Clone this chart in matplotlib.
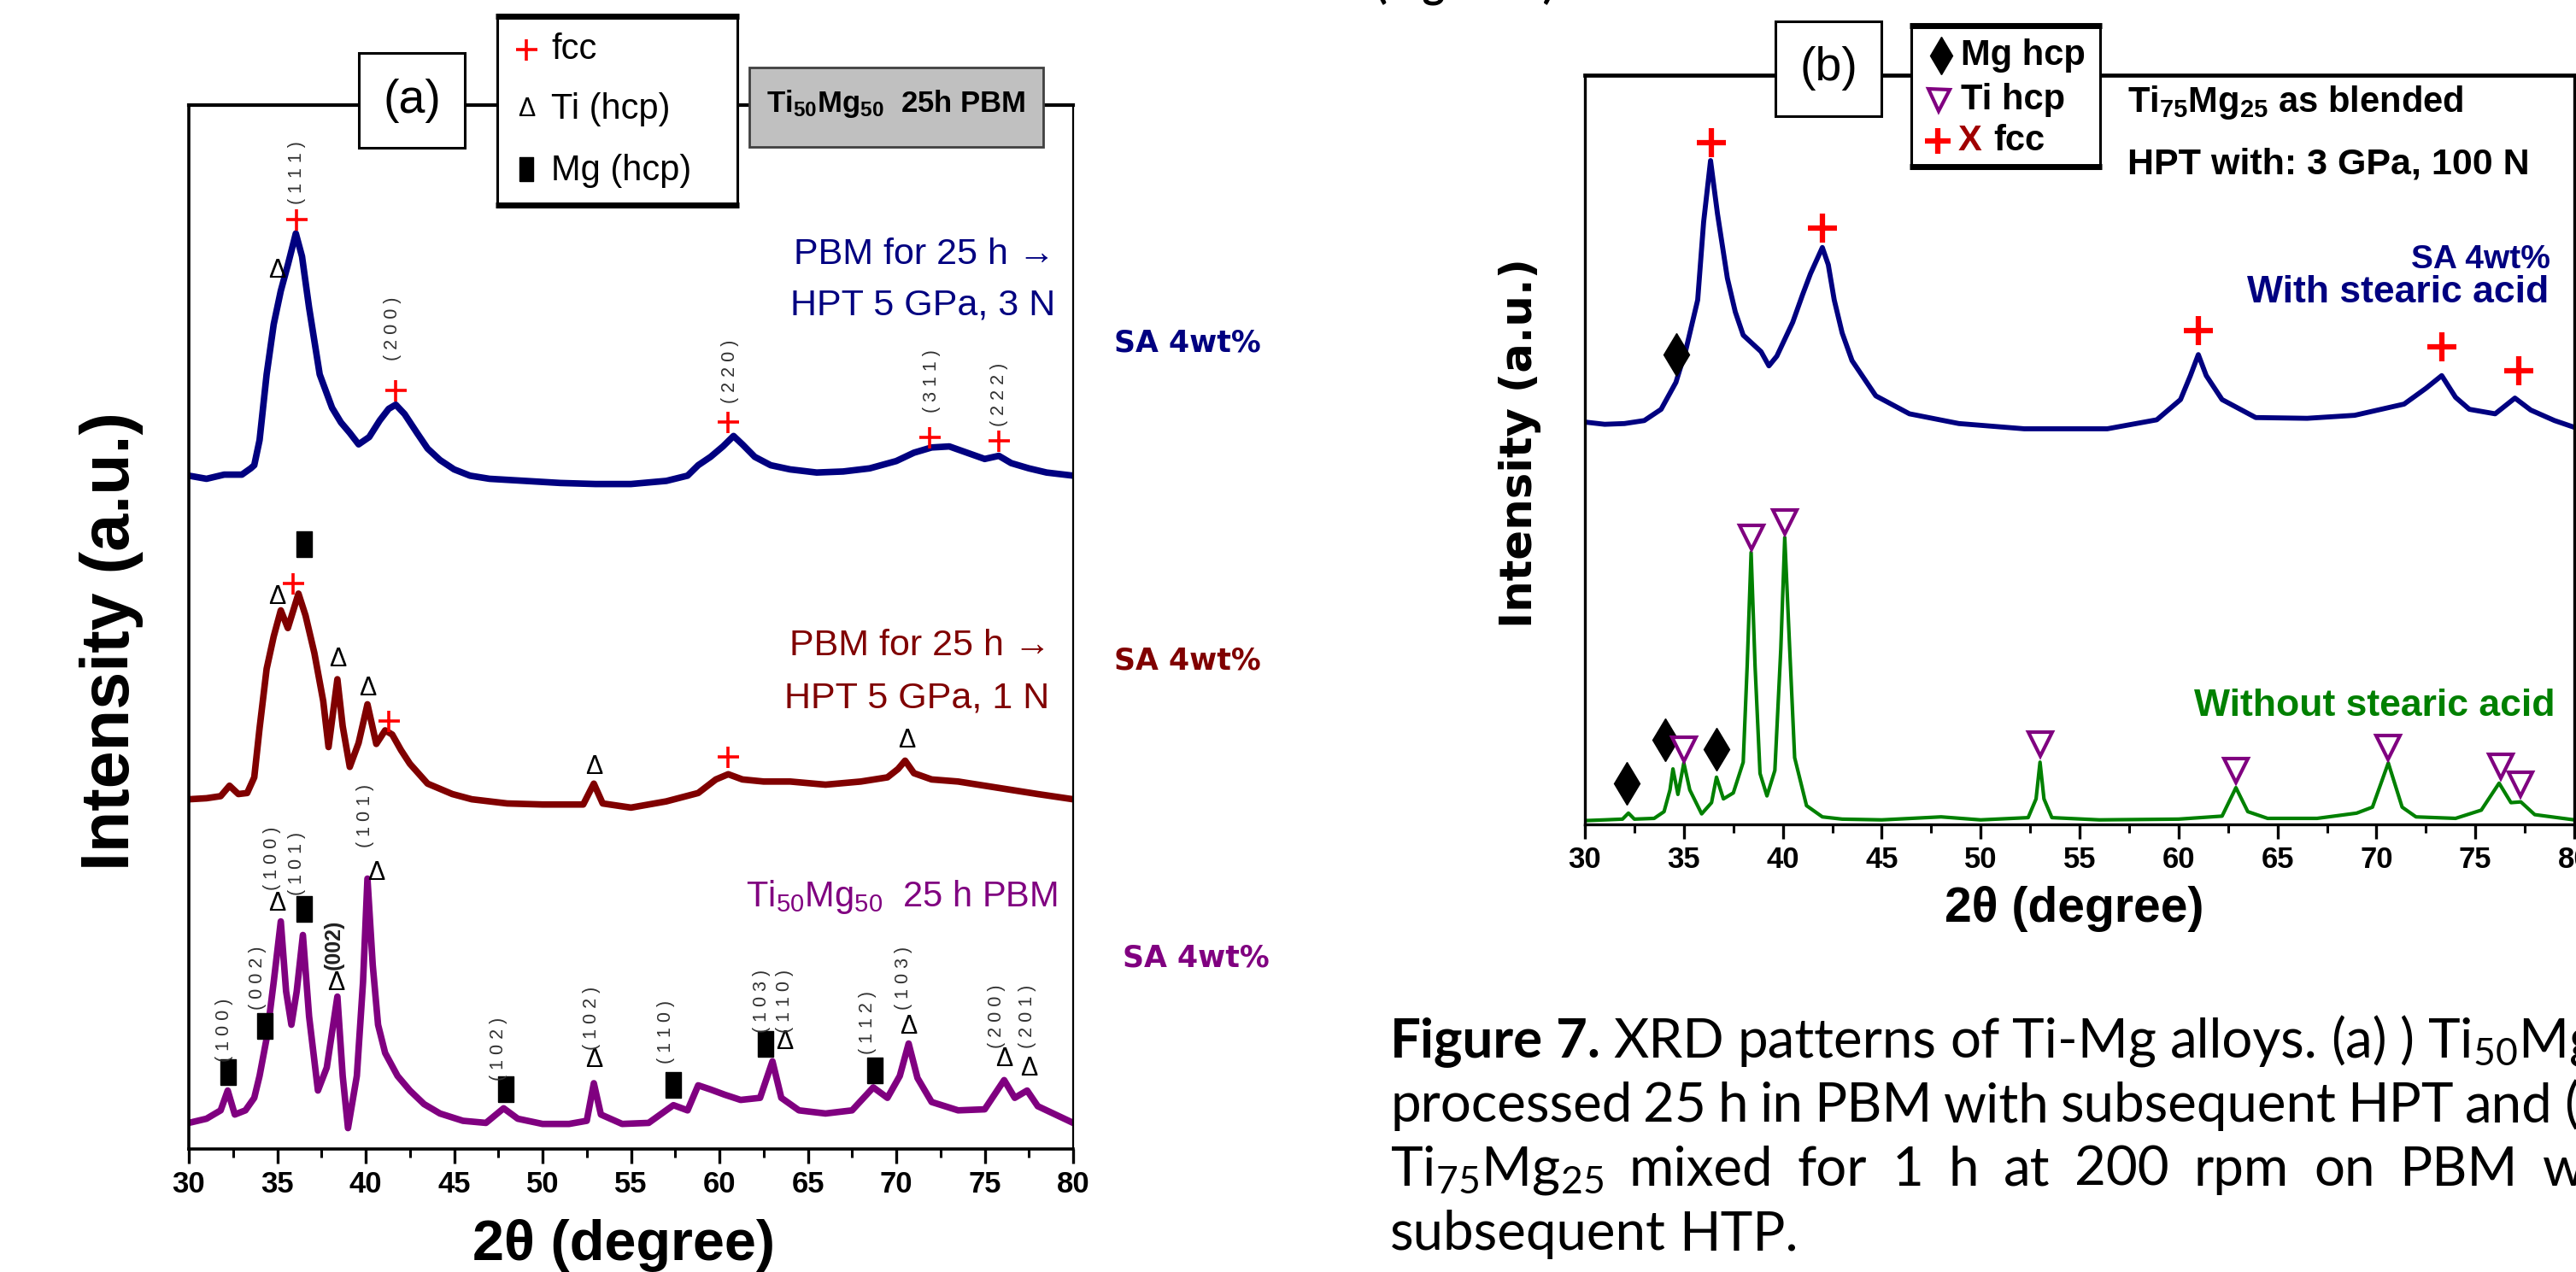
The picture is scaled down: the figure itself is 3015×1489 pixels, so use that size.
import matplotlib
matplotlib.use("Agg")
import matplotlib.pyplot as plt
from matplotlib.patches import Rectangle
from matplotlib.lines import Line2D
from matplotlib.ticker import MultipleLocator

plt.rcParams['mathtext.default'] = 'regular'

W, H = 3015, 1489
ARIAL = ['Liberation Sans', 'DejaVu Sans']
WIDE = ['DejaVu Sans']
CAPT = ['Lato', 'DejaVu Sans']

NAVY, MAROON, PURPLE, GREEN, RED = '#000080', '#800000', '#800080', '#008000', '#ff0000'

# ---------------- panel (a): Ti50Mg50, offset patterns (a.u.) ----------------
a_blue_x = [30, 31, 32, 33, 33.5, 33.7, 34.0, 34.4, 34.8, 35.2, 35.6, 36.05, 36.4, 36.8, 37.4,
            38.1, 38.6, 39.1, 39.6, 40.2, 40.8, 41.3, 41.7, 42.2, 42.9, 43.5, 44.2, 45.0, 45.9,
            47, 49, 51, 53, 55, 57, 58.2, 58.8, 59.5, 60.2, 60.8, 61.3, 62.0, 62.9, 64, 65.5,
            67, 68.5, 70, 71, 72, 73, 74, 75, 75.8, 76.5, 77.5, 78.5, 80]
a_blue_y = [64.5, 64.2, 64.6, 64.6, 65.2, 65.5, 67.9, 74.2, 79.0, 82.2, 84.7, 87.7, 85.5, 80.6, 74.2,
            71.0, 69.6, 68.6, 67.5, 68.2, 69.8, 70.9, 71.3, 70.4, 68.6, 67.1, 66.0, 65.1, 64.5,
            64.2, 64.0, 63.8, 63.7, 63.7, 64.0, 64.5, 65.5, 66.3, 67.3, 68.3, 67.5, 66.3, 65.5, 65.1, 64.8,
            64.9, 65.2, 65.9, 66.7, 67.2, 67.3, 66.7, 66.1, 66.4, 65.7, 65.2, 64.8, 64.5]

a_red_x = [30, 31, 31.8, 32.3, 32.8, 33.3, 33.7, 34.0, 34.4, 34.8, 35.2, 35.6, 36.2, 36.6, 37.1,
           37.6, 37.9, 38.4, 38.7, 39.1, 39.6, 40.1, 40.6, 41.1, 41.5, 42.0, 42.5, 43.5, 44.9,
           46, 48, 50, 52.3, 52.9, 53.4, 55, 57, 58.8, 59.8, 60.5, 61.3, 62.5, 64, 66, 68,
           69.5, 70.1, 70.5, 71.0, 72, 73.5, 75, 76.5, 78, 80]
a_red_y = [33.5, 33.6, 33.8, 34.8, 34.0, 34.1, 35.6, 40.3, 46.0, 49.1, 51.6, 49.9, 53.2, 51.1, 47.5,
           42.9, 38.5, 45.0, 40.5, 36.6, 38.9, 42.6, 38.8, 40.1, 39.7, 38.2, 36.9, 35.0, 34.0,
           33.5, 33.1, 33.0, 33.0, 35.0, 33.1, 32.7, 33.3, 34.1, 35.4, 35.9, 35.4, 35.2, 35.2, 34.9, 35.2,
           35.6, 36.4, 37.2, 36.0, 35.4, 35.2, 34.8, 34.4, 34.0, 33.5]

a_pur_x = [30, 31, 31.8, 32.2, 32.6, 33.2, 33.7, 34.0, 34.4, 34.8, 35.2, 35.5, 35.8, 36.1, 36.45,
           36.8, 37.3, 37.8, 38.4, 38.7, 39.0, 39.5, 39.85, 40.1, 40.4, 40.7, 41.1, 41.8, 42.5,
           43.3, 44.2, 45.5, 46.8, 47.8, 48.6, 50, 51.5, 52.5, 52.9, 53.3, 54.5, 56, 57.4, 58.2,
           58.8, 59.5, 60.3, 61.2, 62.3, 63.0, 63.5, 64.5, 66, 67.5, 68.7, 69.5, 70.2, 70.7,
           71.2, 72, 73.5, 75, 76.1, 76.7, 77.4, 78, 79, 80]
a_pur_y = [2.5, 2.9, 3.7, 5.6, 3.3, 3.7, 4.9, 7.0, 10.6, 16.0, 21.8, 15.1, 11.9, 15.1, 20.5,
           12.7, 5.6, 7.8, 14.6, 7.0, 2.0, 7.0, 16.0, 25.9, 17.6, 11.9, 9.2, 7.0, 5.6,
           4.3, 3.4, 2.7, 2.5, 3.9, 2.9, 2.4, 2.4, 2.7, 6.3, 3.3, 2.4, 2.5, 4.2, 3.7,
           6.1, 5.7, 5.2, 4.7, 4.9, 8.4, 4.9, 3.7, 3.4, 3.7, 5.9, 4.9, 7.0, 10.1,
           6.8, 4.5, 3.7, 3.8, 6.6, 4.9, 5.6, 4.1, 3.3, 2.5]

a_plus_x = [36.1, 41.7, 60.5, 71.9, 75.8, 35.9, 41.3, 60.5]
a_plus_y = [89.0, 72.7, 69.6, 68.2, 67.8, 54.2, 41.0, 37.6]
a_delta_x = [35.0, 35.0, 38.4, 40.1, 52.9, 70.6, 35.0, 38.3, 40.6, 52.9, 63.7, 70.7, 76.1, 77.5]
a_delta_y = [84.1, 52.9, 46.9, 44.1, 36.6, 39.1, 23.5, 15.9, 26.4, 8.5, 10.2, 11.7, 8.6, 7.7]
a_mg_x = [36.5, 32.2, 34.3, 36.5, 47.9, 57.4, 62.6, 68.8]
a_mg_y = [57.9, 7.4, 11.8, 23.0, 5.7, 6.1, 10.1, 7.5]

a_hkl_x = [36.1, 41.5, 60.6, 72.0, 75.8,
           32.0, 33.9, 34.7, 36.1, 38.2, 40.0, 47.5, 52.8, 57.0, 62.4, 63.7, 68.4, 70.4, 75.7, 77.4]
a_hkl_y = [93.5, 78.6, 74.5, 73.6, 72.3,
           11.4, 16.4, 27.8, 27.3, 19.6, 31.9, 9.6, 12.5, 11.2, 14.2, 14.2, 12.1, 16.4, 12.7, 12.7]
a_hkl_lab = ['(111)', '(200)', '(220)', '(311)', '(222)',
             '(100)', '(002)', '(100)', '(101)', '(002)*', '(101)', '(102)', '(102)', '(110)',
             '(103)', '(110)', '(112)', '(103)', '(200)', '(201)']

# ---------------- panel (b): Ti75Mg25 ----------------
b_blue_x = [30, 31, 32, 33, 33.85, 34.6, 35.1, 35.7, 36.0, 36.35, 36.7, 37.2, 37.6, 38.0, 38.9,
            39.3, 39.7, 40.5, 41.0, 41.4, 42.0, 42.3, 42.6, 43.0, 43.5, 44.7, 46.4, 48.9, 52.2,
            56.4, 58.9, 60.1, 60.6, 61.0, 61.4, 62.2, 63.9, 66.5, 68.9, 71.4, 72.5, 73.3, 74.0,
            74.7, 76.0, 77.0, 77.8, 79, 80]
b_blue_y = [53.7, 53.4, 53.5, 53.9, 55.4, 59.0, 63.3, 70.0, 80.4, 88.6, 81.5, 72.9, 68.4, 65.3, 63.1,
            61.2, 62.5, 67.0, 70.7, 73.5, 77.0, 74.7, 70.0, 65.6, 61.9, 57.2, 54.8, 53.5, 52.8,
            52.8, 54.0, 56.7, 59.9, 62.7, 59.9, 56.7, 54.3, 54.2, 54.6, 56.1, 58.2, 59.9, 57.0,
            55.4, 54.8, 56.9, 55.3, 53.9, 53.0]

b_green_x = [30, 31, 31.9, 32.2, 32.5, 33.5, 34.0, 34.3, 34.45, 34.7, 35.0, 35.3, 35.9, 36.4, 36.65,
             37.0, 37.5, 38.0, 38.2, 38.4, 38.6, 38.85, 39.2, 39.6, 39.9, 40.1, 40.35, 40.6, 41.2,
             42.0, 43, 45, 48, 50, 52.4, 52.8, 53.0, 53.2, 53.6, 56, 60, 62.2, 62.9, 63.5, 64.5,
             67, 69, 69.8, 70.6, 71.3, 72, 74, 75.3, 76.2, 76.8, 77.3, 78, 80]
b_green_y = [0.5, 0.6, 0.7, 1.5, 0.7, 0.8, 1.7, 4.6, 7.4, 4.0, 8.2, 4.6, 1.4, 2.9, 6.3,
             3.4, 4.2, 8.3, 21.1, 36.3, 21.1, 6.8, 3.8, 7.2, 23.4, 38.3, 23.4, 8.9, 2.5,
             1.0, 0.7, 0.6, 1.0, 0.6, 0.9, 3.4, 8.3, 3.4, 0.9, 0.6, 0.7, 1.1, 4.9, 1.7, 0.8,
             0.8, 1.5, 2.3, 8.2, 2.3, 1.0, 0.8, 1.9, 5.5, 2.9, 3.0, 1.3, 0.6]

b_plus_x = [36.4, 42.0, 61.0, 73.3, 77.2]
b_plus_y = [91.0, 79.6, 65.9, 63.7, 60.5]
b_dia_x = [34.6, 32.1, 34.05, 36.65]
b_dia_y = [62.7, 5.5, 11.3, 10.0]
b_tri_x = [35.0, 38.4, 40.1, 53.0, 62.9, 70.6, 76.3, 77.3]
b_tri_y = [10.0, 38.3, 40.4, 10.7, 7.2, 10.3, 7.8, 5.4]

xticks = [30, 35, 40, 45, 50, 55, 60, 65, 70, 75, 80]

caption_lines = [
    [('Figure', 'bold'), ('7.', 'bold'), ('XRD', 'normal'), ('patterns', 'normal'), ('of', 'normal'),
     ('Ti-Mg', 'normal'), ('alloys.', 'normal'), ('(a)', 'normal'), (')', 'normal'),
     ('Ti$_{50}$Mg$_{50}$', 'normal')],
    [(w, 'normal') for w in 'processed 25 h in PBM with subsequent HPT and (b)'.split()],
    [(w, 'normal') for w in ['Ti$_{75}$Mg$_{25}$', 'mixed', 'for', '1', 'h', 'at', '200', 'rpm',
                             'on', 'PBM', 'with']],
    [(w, 'normal') for w in 'subsequent HTP.'.split()],
]

MG_RECT = [(-0.28, -0.5), (0.28, -0.5), (0.28, 0.5), (-0.28, 0.5), (-0.28, -0.5)]


def fx(px):
    return px / W


def fy(py):
    return 1 - py / H


fig = plt.figure(figsize=(W / 100, H / 100), dpi=100)
renderer = fig.canvas.get_renderer()


def ftext(x, y, s, **kw):
    return fig.text(fx(x), fy(y), s, **kw)


def fbox(x0, y0, x1, y1, fc='white', ec='k', lw=2.0, z=10):
    fig.add_artist(Rectangle((fx(x0), fy(y1)), (x1 - x0) / W, (y1 - y0) / H,
                             transform=fig.transFigure, fc=fc, ec=ec, lw=lw, zorder=z))


def fline(x0, x1, y, lw):
    fig.add_artist(Line2D([fx(x0), fx(x1)], [fy(y), fy(y)], transform=fig.transFigure,
                          color='k', lw=lw, zorder=11, solid_capstyle='butt'))


def fmark(x, y, **kw):
    fig.add_artist(Line2D([fx(x)], [fy(y)], transform=fig.transFigure, ls='none', zorder=12, **kw))


def style_axis(ax, lw_top, lw_other):
    ax.set_xlim(30, 80)
    ax.set_ylim(0, 100)
    ax.set_yticks([])
    ax.set_xticks(xticks)
    ax.set_xticklabels([str(t) for t in xticks], fontweight='bold', family=ARIAL, fontsize=25)
    ax.xaxis.set_minor_locator(MultipleLocator(2.5))
    ax.tick_params(axis='x', which='major', direction='out', length=12, width=2.4, pad=6)
    ax.tick_params(axis='x', which='minor', direction='out', length=7, width=2.2)
    ax.spines['top'].set_linewidth(lw_top)
    for s in ('left', 'right', 'bottom'):
        ax.spines[s].set_linewidth(lw_other)


# ================= panel (a) =================
ax = fig.add_axes([fx(221), fy(1345), (1256 - 221) / W, (1345 - 123) / H])
style_axis(ax, 3.0, 2.6)
ax.spines['right'].set_linewidth(1.6)
ax.plot(a_blue_x, a_blue_y, color=NAVY, lw=5.5)
ax.plot(a_red_x, a_red_y, color=MAROON, lw=5.5)
ax.plot(a_pur_x, a_pur_y, color=PURPLE, lw=5.5)
ax.plot(a_plus_x, a_plus_y, ls='none', marker='+', color=RED, ms=18, mew=2.6)
ax.plot(a_mg_x, a_mg_y, ls='none', marker=MG_RECT, color='k', ms=22)
for x, y in zip(a_delta_x, a_delta_y):
    ax.text(x, y, 'Δ', ha='center', va='center', fontsize=22, family=ARIAL, color='k')
for x, y, lab in zip(a_hkl_x, a_hkl_y, a_hkl_lab):
    if lab.endswith('*'):
        ax.text(x, y, lab[:-1], rotation=90, ha='center', va='center', fontsize=18,
                family=ARIAL, fontweight='bold', color='#202020')
    else:
        ax.text(x, y, ' '.join(lab), rotation=90, ha='center', va='center', fontsize=15.5,
                family=ARIAL, color='#303030')

ftext(1235, 298, 'PBM for 25 h →', ha='right', va='center', fontsize=31, family=ARIAL, color=NAVY)
ftext(1235, 358, 'HPT 5 GPa, 3 N', ha='right', va='center', fontsize=31, family=ARIAL, color=NAVY)
ftext(1230, 756, 'PBM for 25 h →', ha='right', va='center', fontsize=31, family=ARIAL, color=MAROON)
ftext(1228, 818, 'HPT 5 GPa, 1 N', ha='right', va='center', fontsize=31, family=ARIAL, color=MAROON)
ftext(1238, 1050, 'Ti$_{50}$Mg$_{50}$  25 h PBM', ha='right', va='center', fontsize=30,
      family=ARIAL, color=PURPLE)

ftext(1390, 402, 'SA 4wt%', ha='center', va='center', fontsize=25, family=WIDE, fontweight='bold', color=NAVY)
ftext(1390, 773, 'SA 4wt%', ha='center', va='center', fontsize=25, family=WIDE, fontweight='bold', color=MAROON)
ftext(1400, 1121, 'SA 4wt%', ha='center', va='center', fontsize=25, family=WIDE, fontweight='bold', color=PURPLE)

ftext(131, 750, 'Intensity (a.u.)', rotation=90, ha='center', va='center', fontsize=57,
      family=ARIAL, fontweight='bold')
ftext(730, 1458, '2θ (degree)', ha='center', va='center', fontsize=48, family=ARIAL, fontweight='bold')

# header boxes of (a)
fbox(420, 62, 544, 173, lw=2.2)
ftext(482, 118, '(a)', ha='center', va='center', fontsize=40, family=ARIAL, zorder=13)
fbox(582, 17, 863, 242, lw=2.2)
fline(580, 865, 19, 5)
fline(580, 865, 240, 5)
fmark(616, 58, marker='+', color=RED, ms=18, mew=2.6)
ftext(645, 58, 'fcc', ha='left', va='center', fontsize=30, family=ARIAL, zorder=13)
ftext(616, 128, 'Δ', ha='center', va='center', fontsize=22, family=ARIAL, zorder=13)
ftext(645, 128, 'Ti (hcp)', ha='left', va='center', fontsize=30, family=ARIAL, zorder=13)
fmark(616, 198, marker=MG_RECT, color='k', ms=20)
ftext(645, 200, 'Mg (hcp)', ha='left', va='center', fontsize=30, family=ARIAL, zorder=13)
fbox(877, 79, 1221, 172, fc='#c0c0c0', ec='#404040', lw=2.0)
ftext(1049, 122, 'Ti$_{50}$Mg$_{50}$  25h PBM', ha='center', va='center', fontsize=25,
      family=ARIAL, fontweight='bold', zorder=13)

# ================= panel (b) =================
bx = fig.add_axes([fx(1855), fy(965), (3013 - 1855) / W, (965 - 88) / H])
style_axis(bx, 3.4, 2.4)
bx.plot(b_blue_x, b_blue_y, color=NAVY, lw=4.2)
bx.plot(b_green_x, b_green_y, color=GREEN, lw=3.0)
bx.plot(b_plus_x, b_plus_y, ls='none', marker='+', color=RED, ms=24, mew=4.5)
bx.plot(b_dia_x, b_dia_y, ls='none', marker='d', color='k', ms=25)
bx.plot(b_tri_x, b_tri_y, ls='none', marker='v', mfc='white', mec=PURPLE, ms=20, mew=3)

ftext(1779, 519, 'Intensity (a.u.)', rotation=90, ha='center', va='center', fontsize=37,
      family=WIDE, fontweight='bold')
ftext(2428, 1064, '2θ (degree)', ha='center', va='center', fontsize=41, family=ARIAL, fontweight='bold')

ftext(2490, 120, 'Ti$_{75}$Mg$_{25}$ as blended', ha='left', va='center', fontsize=30,
      family=ARIAL, fontweight='bold')
ftext(2490, 192, 'HPT with: 3 GPa, 100 N', ha='left', va='center', fontsize=31,
      family=ARIAL, fontweight='bold')
ftext(2985, 304, 'SA 4wt%', ha='right', va='center', fontsize=28, family=ARIAL, fontweight='bold', color=NAVY)
ftext(2983, 343, 'With stearic acid', ha='right', va='center', fontsize=32, family=ARIAL,
      fontweight='bold', color=NAVY)
ftext(2991, 827, 'Without stearic acid', ha='right', va='center', fontsize=32, family=ARIAL,
      fontweight='bold', color=GREEN)

fbox(2078, 25, 2202, 136, lw=2.2)
ftext(2140, 80, '(b)', ha='center', va='center', fontsize=40, family=ARIAL, zorder=13)
fbox(2237, 28, 2458, 197, lw=2.2)
fline(2235, 2460, 30, 5)
fline(2235, 2460, 195, 5)
fmark(2272, 65, marker='d', color='k', ms=22)
ftext(2295, 65, 'Mg hcp', ha='left', va='center', fontsize=30, family=ARIAL, fontweight='bold', zorder=13)
fmark(2269, 117, marker='v', mfc='white', mec=PURPLE, ms=18, mew=3)
ftext(2295, 117, 'Ti hcp', ha='left', va='center', fontsize=30, family=ARIAL, fontweight='bold', zorder=13)
fmark(2268, 165, marker='+', color=RED, ms=22, mew=4.5)
ftext(2292, 165, 'X', ha='left', va='center', fontsize=30, family=ARIAL, fontweight='bold',
      color='#a00000', zorder=13)
ftext(2333, 165, 'fcc', ha='left', va='center', fontsize=30, family=ARIAL, fontweight='bold', zorder=13)

# cut-off heading at the very top
fig.text(fx(1610), 1 + 3 / H, '(Figure 7)', ha='left', va='baseline', fontsize=36,
         family=CAPT, fontweight='bold')

# ================= caption (justified column, cut by the right edge) =================
CAP_X0 = 1627
CAP_Y = [1220, 1295, 1370, 1445]
# where the last visible word of each justified line starts / ends
END_TARGETS = [('end_M', 3003), ('start', 3001), ('start', 2976), None]


def word_width(s, wgt, size):
    t = fig.text(0, 0, s, fontsize=size, family=CAPT, fontweight=wgt)
    w = t.get_window_extent(renderer=renderer).width
    t.remove()
    return w


# font size chosen so that line 1 fits from the column start to "Ti50M" at the edge
size0 = 30.0
first = caption_lines[0]
span0 = sum(word_width(s, wg, size0) for s, wg in first[:-1]) + word_width('Ti$_{50}$M', 'normal', size0)
span0 += (len(first) - 1) * 0.24 * size0 * 100 / 72
CS = size0 * (3003 - CAP_X0) / span0

for words, y, target in zip(caption_lines, CAP_Y, END_TARGETS):
    widths = [word_width(s, wg, CS) for s, wg in words]
    if target is None:
        gap = 0.24 * CS * 100 / 72
    elif target[0] == 'end_M':
        last_start = target[1] - word_width('Ti$_{50}$M', 'normal', CS)
        gap = (last_start - CAP_X0 - sum(widths[:-1])) / (len(words) - 1)
    else:
        gap = (target[1] - CAP_X0 - sum(widths[:-1])) / (len(words) - 1)
    x = CAP_X0
    for (s, wg), w in zip(words, widths):
        ftext(x, y, s, ha='left', va='center', fontsize=CS, family=CAPT, fontweight=wg)
        x += w + gap

fig.savefig('out.png', dpi=100)
